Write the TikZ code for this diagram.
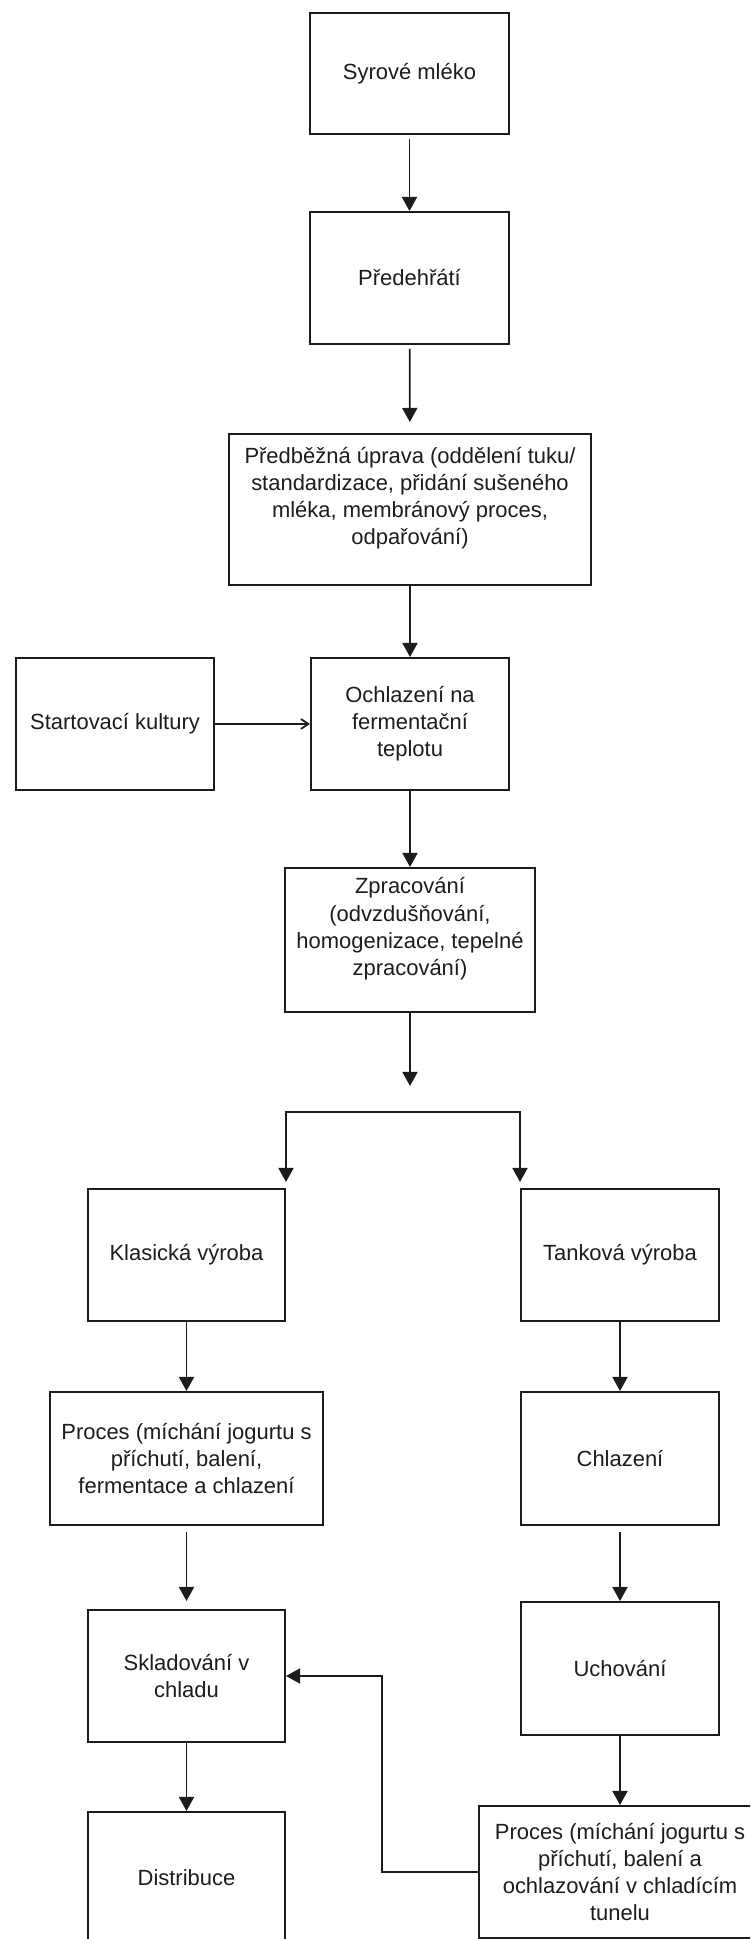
\documentclass[tikz,border=0pt]{standalone}
\usepackage{fontspec}
\setmainfont{Liberation Sans}
\usetikzlibrary{arrows.meta}
\definecolor{cara}{HTML}{1C1C1C}
\begin{document}
\begin{tikzpicture}[
    krok/.style={draw=cara, line width=0.04cm, rectangle, align=center,
                 inner sep=0.06cm, text=cara,
                 font=\fontsize{12.5pt}{15.4pt}\selectfont},
    sipka/.style={draw=cara, line width=0.035cm,
                  -{Triangle[width=0.30cm,length=0.28cm]}},
    tenka/.style={draw=cara, line width=0.035cm,
                  -{Straight Barb[length=0.15cm,width=0.2cm]}}
  ]
                    \useasboundingbox (0,0) rectangle (15.000000,38.780000);
                    \clip (0,0) rectangle (15.000000,38.780000);

                    % Main column
                    \node [krok, minimum width=3.98cm, minimum height=2.42cm] (syrove) at (8.190000,37.310000) {Syrové mléko};%
                    \node [krok, minimum width=3.98cm, minimum height=2.64cm] (predehrati) at (8.190000,33.220000) {Předehřátí};%
                    \node [krok, minimum width=7.24cm, minimum height=3.02cm] (uprava) at (8.200000,28.590000)
                      {Předběžná úprava (oddělení tuku/\\ standardizace, přidání sušeného\\ mléka, membránový proces,\\ odpařování)\\ ~};%
                    \node [krok, minimum width=3.96cm, minimum height=2.64cm] (ochlazeni) at (8.200000,24.300000)
                      {Ochlazení na\\ fermentační\\ teplotu};%
                    \node [krok, minimum width=5.00cm, minimum height=2.88cm] (zpracovani) at (8.200000,19.980000)
                      {Zpracování\\ (odvzdušňování,\\ homogenizace, tepelné\\ zpracování)\\ ~};%

                    % Starter cultures on the left
                    \node [krok, minimum width=3.96cm, minimum height=2.64cm] (startovaci) at (2.300000,24.300000) {Startovací kultury};%

                    % Split point
                    \coordinate (zpr_konec) at (8.200000,17.060000);
                    \coordinate (rozdel) at (8.200000,16.540000);

                    % Left branch: classic production
                    \node [krok, minimum width=3.94cm, minimum height=2.64cm] (klasicka) at (3.730000,13.680000) {Klasická výroba};%
                    \node [krok, minimum width=5.46cm, minimum height=2.66cm] (procesa) at (3.730000,9.610000)
                      {Proces (míchání jogurtu s\\ příchutí, balení,\\ fermentace a chlazení};%
                    \node [krok, minimum width=3.94cm, minimum height=2.64cm] (skladovani) at (3.730000,5.260000) {Skladování v\\ chladu};%
                    \node [krok, minimum width=3.94cm, minimum height=2.64cm] (distribuce) at (3.730000,1.220000) {Distribuce};%

                    % Right branch: tank production
                    \node [krok, minimum width=3.96cm, minimum height=2.64cm] (tankova) at (12.400000,13.680000) {Tanková výroba};%
                    \node [krok, minimum width=3.96cm, minimum height=2.66cm] (chlazeni) at (12.400000,9.610000) {Chlazení};%
                    \node [krok, minimum width=3.96cm, minimum height=2.66cm] (uchovani) at (12.400000,5.410000) {Uchování};%
                    \node [krok, minimum width=5.64cm, minimum height=2.64cm] (procesb) at (12.400000,1.340000)
                      {Proces (míchání jogurtu s\\ příchutí, balení a\\ ochlazování v chladícím\\ tunelu};%

                    % Drawing arrows of the main column
                    \draw [sipka, shorten <=0.08cm] (syrove) -- (predehrati);%
                    \draw [sipka, shorten <=0.08cm, shorten >=0.22cm] (predehrati) -- (uprava);%
                    \draw [sipka] (uprava) -- (ochlazeni);%
                    \draw [tenka] (startovaci) -- (ochlazeni);%
                    \draw [sipka] (ochlazeni) -- (zpracovani);%
                    \draw [sipka] (zpracovani) -- (zpr_konec);%

                    % Drawing the split
                    \draw [sipka, shorten >=0.12cm] (rozdel) -| (klasicka.north east);%
                    \draw [sipka, shorten >=0.12cm] (rozdel) -| (tankova.north west);%

                    % Drawing arrows of the left branch
                    \draw [sipka] (klasicka) -- (procesa);%
                    \draw [sipka, shorten <=0.12cm, shorten >=0.16cm] (procesa) -- (skladovani);%
                    \draw [sipka] (skladovani) -- (distribuce);%

                    % Drawing arrows of the right branch
                    \draw [sipka] (tankova) -- (chlazeni);%
                    \draw [sipka, shorten <=0.12cm] (chlazeni) -- (uchovani);%
                    \draw [sipka] (uchovani) -- (procesb);%

                    % Drawing the way back to cold storage
                    \draw [sipka] (procesb.west) -- (7.640000,1.340000) |- (skladovani.east);%
\end{tikzpicture}
\end{document}
